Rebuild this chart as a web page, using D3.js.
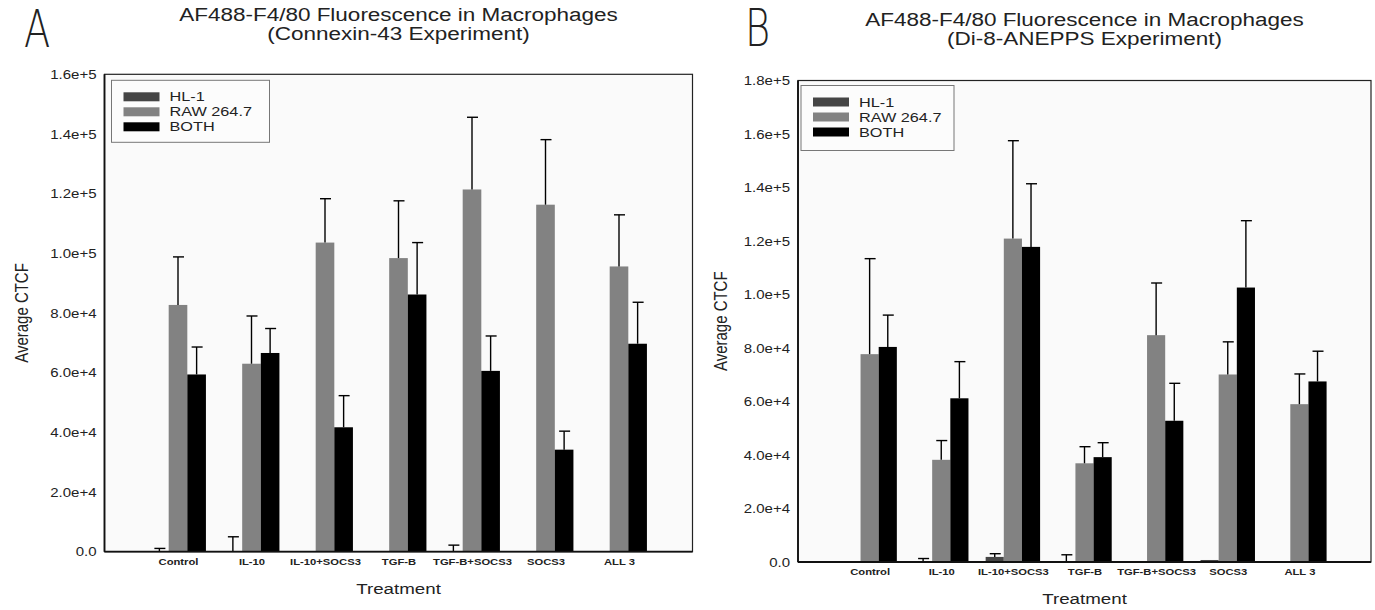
<!DOCTYPE html>
<html>
<head>
<meta charset="utf-8">
<script src="https://cdn.jsdelivr.net/npm/d3@7"></script>
<style>
  body { margin: 0; background: #fff; }
  text { font-family: "Liberation Sans", Arial, sans-serif; fill: #222; }
</style>
</head>
<body>
<svg id="chart" width="1375" height="610"></svg>
<script>
// categories and series
const categories = ["Control", "IL-10", "IL-10+SOCS3", "TGF-B", "TGF-B+SOCS3", "SOCS3", "ALL 3"]
const seriesNames = ["HL-1", "RAW 264.7", "BOTH"]
const seriesColors = ["#454545", "#828282", "#000000"]

// panel A - Connexin-43 (mean, sd)
const hl1A = [0, 0, 0, 0, 0, 0, 0]
const hl1SdA = [1100, 5000, 0, 0, 2200, 0, 0]
const rawA = [82700, 63000, 103600, 98400, 121400, 116300, 95600]
const rawSdA = [16100, 16000, 14700, 19200, 24200, 21800, 17300]
const bothA = [59400, 66600, 41700, 86200, 60600, 34200, 69700]
const bothSdA = [9200, 8200, 10600, 17400, 11700, 6200, 13900]
const yTicksA = [0, 20000, 40000, 60000, 80000, 100000, 120000, 140000, 160000]

// panel B - Di-8-ANEPPS (mean, sd)
const hl1B = [0, 0, 1900, 0, 0, 750, 0]
const hl1SdB = [0, 1300, 1200, 2700, 0, 0, 0]
const rawB = [77700, 38200, 120900, 36900, 84800, 70100, 59000]
const rawSdB = [35700, 7200, 36600, 6200, 19500, 12200, 11300]
const bothB = [80400, 61200, 117800, 39200, 52800, 102600, 67500]
const bothSdB = [11900, 13700, 23600, 5400, 14000, 25000, 11300]
const yTicksB = [0, 20000, 40000, 60000, 80000, 100000, 120000, 140000, 160000, 180000]

const SX = 1.25 // the figure is stretched horizontally
const svg = d3.select("#chart")

function fmt(v){
	return v === 0 ? "0.0" : d3.format(".1e")(v)
}

function txt(g, x, y, s, size, anchor, weight){
	return g.append("text")
		.attr("transform", "translate(" + x + "," + y + ") scale(" + SX + ",1)")
		.attr("text-anchor", anchor || "start")
		.style("font-size", size + "px")
		.style("font-weight", weight || "normal")
		.text(s)
}

function drawPanel(cfg){
	const g = svg.append("g")
	const x = d3.scalePoint().domain(categories).range([cfg.left, cfg.right]).padding(1)
	const y = d3.scaleLinear().domain([0, d3.max(cfg.yTicks)]).range([cfg.bottom, cfg.top])
	const step = x.step()
	const xs = d3.scaleBand().domain(seriesNames).range([-step * 0.38, step * 0.38])

	// plot area
	g.append("rect")
		.attr("x", cfg.left).attr("y", cfg.top)
		.attr("width", cfg.right - cfg.left).attr("height", cfg.bottom - cfg.top)
		.attr("fill", "#fafafa").attr("stroke", "#222").attr("stroke-width", 1.2)

	// bars
	cfg.series.forEach((s, i) => {
		const rows = categories.map((c, j) => ({cat: c, v: s.mean[j], sd: s.sd[j]}))
		g.selectAll(null).data(rows).enter().append("rect")
			.attr("x", d => x(d.cat) + xs(seriesNames[i]))
			.attr("y", d => y(d.v))
			.attr("width", xs.bandwidth())
			.attr("height", d => y(0) - y(d.v))
			.attr("fill", seriesColors[i])
		// upper error bars
		const errs = g.selectAll(null).data(rows.filter(d => d.sd > 0)).enter().append("g")
			.attr("stroke", "#000").attr("stroke-width", 1.4)
		const cx = d => x(d.cat) + xs(seriesNames[i]) + xs.bandwidth() / 2
		errs.append("line")
			.attr("x1", cx).attr("x2", cx)
			.attr("y1", d => y(d.v)).attr("y2", d => y(d.v + d.sd))
		errs.append("line")
			.attr("x1", d => cx(d) - 5).attr("x2", d => cx(d) + 6)
			.attr("y1", d => y(d.v + d.sd)).attr("y2", d => y(d.v + d.sd))
	})

	// axis lines
	g.append("line").attr("x1", cfg.left).attr("x2", cfg.left)
		.attr("y1", cfg.top).attr("y2", cfg.bottom).attr("stroke", "#111").attr("stroke-width", 1.8)
	g.append("line").attr("x1", cfg.left).attr("x2", cfg.right)
		.attr("y1", cfg.bottom).attr("y2", cfg.bottom).attr("stroke", "#111").attr("stroke-width", 1.8)

	// y axis
	const ya = g.append("g").attr("transform", "translate(" + cfg.left + ",0)")
		.call(d3.axisLeft(y).tickValues(cfg.yTicks).tickFormat(fmt).tickSize(0).tickPadding(0))
	ya.select(".domain").remove()
	ya.selectAll("text")
		.attr("x", 0).attr("dy", "0.35em")
		.attr("transform", "translate(-8,0) scale(" + SX + ",1)")
		.style("font-size", "12px").style("font-family", "Liberation Sans, Arial, sans-serif").attr("fill", "#222")

	// x axis
	const xa = g.append("g").attr("transform", "translate(0," + cfg.bottom + ")")
		.call(d3.axisBottom(x).tickSize(0).tickPadding(0))
	xa.select(".domain").remove()
	xa.selectAll("text")
		.attr("y", 0).attr("dy", 0)
		.attr("transform", "translate(0,13) scale(" + SX + ",1)")
		.style("font-size", "9px").style("font-weight", "bold")
		.style("font-family", "Liberation Sans, Arial, sans-serif").attr("fill", "#222")

	// titles
	const mid = (cfg.left + cfg.right) / 2
	txt(g, mid, cfg.title1Y, "AF488-F4/80 Fluorescence in Macrophages", 18, "middle")
	txt(g, mid, cfg.title1Y + 19, cfg.subtitle, 18, "middle")
	txt(g, mid, cfg.bottom + 42, "Treatment", 15, "middle")
	g.append("text")
		.attr("transform", "translate(" + cfg.yTitleX + "," + (cfg.top + cfg.bottom) / 2 + ") rotate(-90) scale(1," + SX + ")")
		.attr("text-anchor", "middle").style("font-size", "15px").text("Average CTCF")

	// panel letter
	g.append("text")
		.attr("transform", "translate(" + cfg.letterX + "," + cfg.letterY + ") scale(0.8,1.06)")
		.style("font-family", "DejaVu Sans").style("font-weight", 200)
		.style("font-size", "48px").attr("fill", "#000").text(cfg.letter)

	// legend
	const lg = g.append("g").attr("transform", "translate(" + (cfg.left + cfg.legDx) + "," + (cfg.top + cfg.legDy) + ")")
	lg.append("rect").attr("width", cfg.legW).attr("height", cfg.legH)
		.attr("fill", "#fcfcfc").attr("stroke", "#777").attr("stroke-width", 1)
	seriesNames.forEach((n, i) => {
		lg.append("rect").attr("x", 12).attr("y", 12 + i * 15).attr("width", 36).attr("height", 9)
			.attr("fill", seriesColors[i])
		txt(lg, 58, 21 + i * 15, n, 13, "start")
	})
}

drawPanel({
	letter: "A", letterX: 24, letterY: 47,
	subtitle: "(Connexin-43 Experiment)", title1Y: 21,
	left: 104.5, right: 692.5, top: 74.3, bottom: 551.7,
	yTicks: yTicksA, yTitleX: 28,
	legDx: 7, legDy: 6, legW: 158, legH: 62,
	series: [
		{mean: hl1A, sd: hl1SdA},
		{mean: rawA, sd: rawSdA},
		{mean: bothA, sd: bothSdA}
	]
})

drawPanel({
	letter: "B", letterX: 745, letterY: 46,
	subtitle: "(Di-8-ANEPPS Experiment)", title1Y: 26,
	left: 798, right: 1371, top: 80.5, bottom: 562,
	yTicks: yTicksB, yTitleX: 727,
	legDx: 3, legDy: 5, legW: 153, legH: 65,
	series: [
		{mean: hl1B, sd: hl1SdB},
		{mean: rawB, sd: rawSdB},
		{mean: bothB, sd: bothSdB}
	]
})
</script>
</body>
</html>
